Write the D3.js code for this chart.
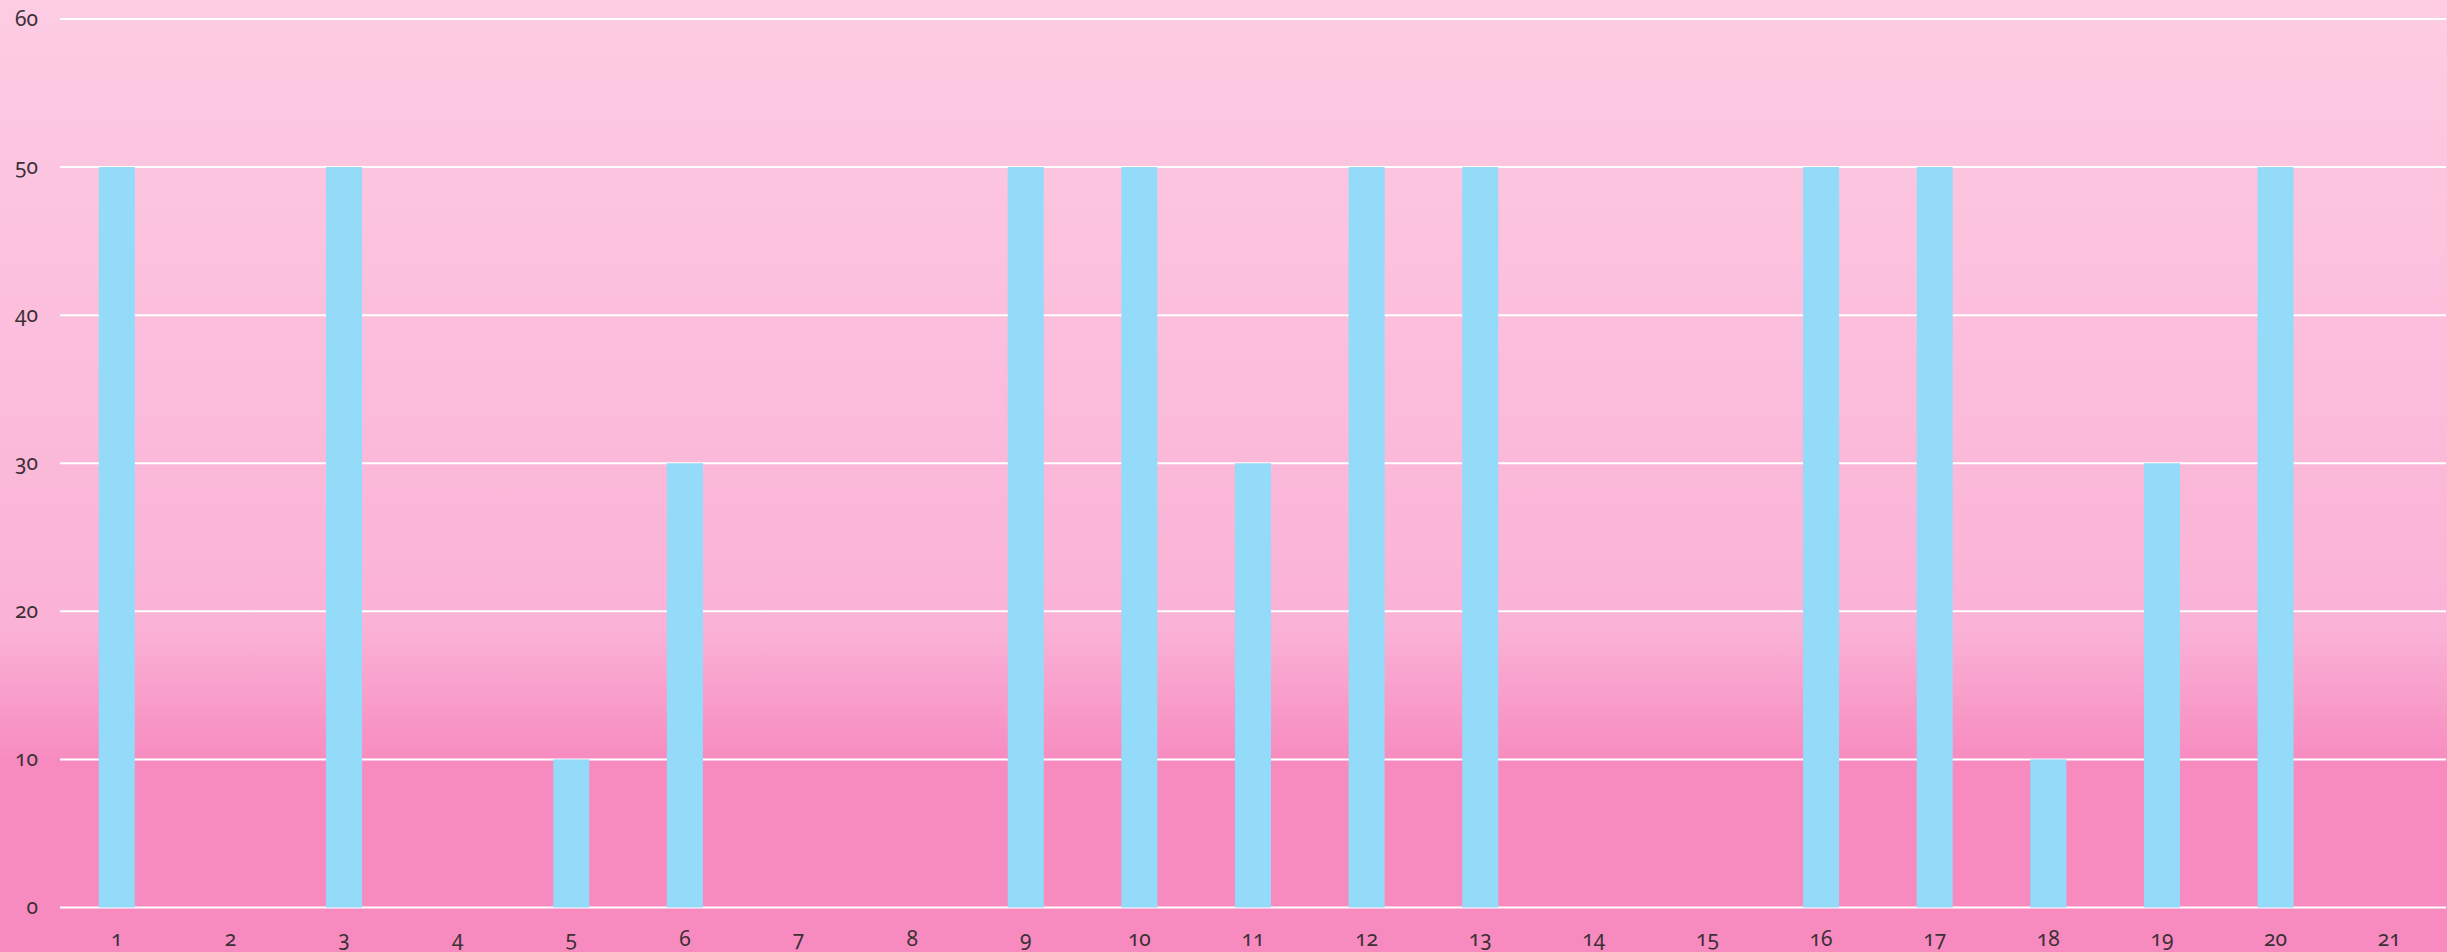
<!DOCTYPE html>
<html>
<head>
<meta charset="utf-8">
<script src="https://cdn.jsdelivr.net/npm/d3@7"></script>
<style>
  html, body { margin: 0; padding: 0; }
  body { width: 2447px; height: 952px; overflow: hidden; }
  text { font-family: "Noto Sans", sans-serif; font-variant-numeric: oldstyle-nums; font-feature-settings: "onum" 1; fill: #3b3035; }
</style>
</head>
<body>
<svg id="chart" width="2447" height="952"></svg>
<script>
// values per day
var categories = ['1','2','3','4','5','6','7','8','9','10','11','12','13','14','15','16','17','18','19','20','21']
var values = [50, 0, 50, 0, 10, 30, 0, 0, 50, 50, 30, 50, 50, 0, 0, 50, 50, 10, 30, 50, 0]
var yTicks = [0, 10, 20, 30, 40, 50, 60]

var width = 2447, height = 952
var margin = { left: 60, right: 1, top: 19, bottom: 44.5 }

var svg = d3.select('#chart')

// background gradient
var defs = svg.append('defs')
var grad = defs.append('linearGradient')
  .attr('id', 'bg')
  .attr('x1', 0).attr('y1', 0).attr('x2', 0).attr('y2', 1)
grad.append('stop').attr('offset', '0%').attr('stop-color', '#fdcce3')
grad.append('stop').attr('offset', '66%').attr('stop-color', '#fab2d6')
grad.append('stop').attr('offset', '80%').attr('stop-color', '#f78bc0')
grad.append('stop').attr('offset', '100%').attr('stop-color', '#f78bc0')

svg.append('rect')
  .attr('width', width)
  .attr('height', height)
  .attr('fill', 'url(#bg)')

var x = d3.scaleBand()
  .domain(categories)
  .range([margin.left, width - margin.right])
  .padding(0)

var y = d3.scaleLinear()
  .domain([0, 60])
  .range([height - margin.bottom, margin.top])

var barW = x.bandwidth() * 0.317

// grid lines
svg.append('g')
  .selectAll('line')
  .data(yTicks)
  .enter()
  .append('line')
  .attr('x1', margin.left)
  .attr('x2', width - margin.right)
  .attr('y1', (d) => y(d))
  .attr('y2', (d) => y(d))
  .attr('stroke', '#ffffff')
  .attr('stroke-width', 2)

// y labels
svg.append('g')
  .selectAll('text')
  .data(yTicks)
  .enter()
  .append('text')
  .attr('x', 38)
  .attr('y', (d) => y(d))
  .attr('dy', '0.32em')
  .attr('text-anchor', 'end')
  .attr('font-size', 21)
  .text((d) => d)

// bars
svg.append('g')
  .selectAll('rect')
  .data(values)
  .enter()
  .append('rect')
  .attr('x', (d, i) => x(categories[i]) + x.bandwidth() / 2 - barW / 2)
  .attr('y', (d) => y(d))
  .attr('width', barW)
  .attr('height', (d) => y(0) - y(d))
  .attr('fill', '#93dbf9')

// x labels
svg.append('g')
  .selectAll('text')
  .data(categories)
  .enter()
  .append('text')
  .attr('x', (d) => x(d) + x.bandwidth() / 2)
  .attr('y', 946)
  .attr('text-anchor', 'middle')
  .attr('font-size', 21)
  .text((d) => d)
</script>
</body>
</html>
